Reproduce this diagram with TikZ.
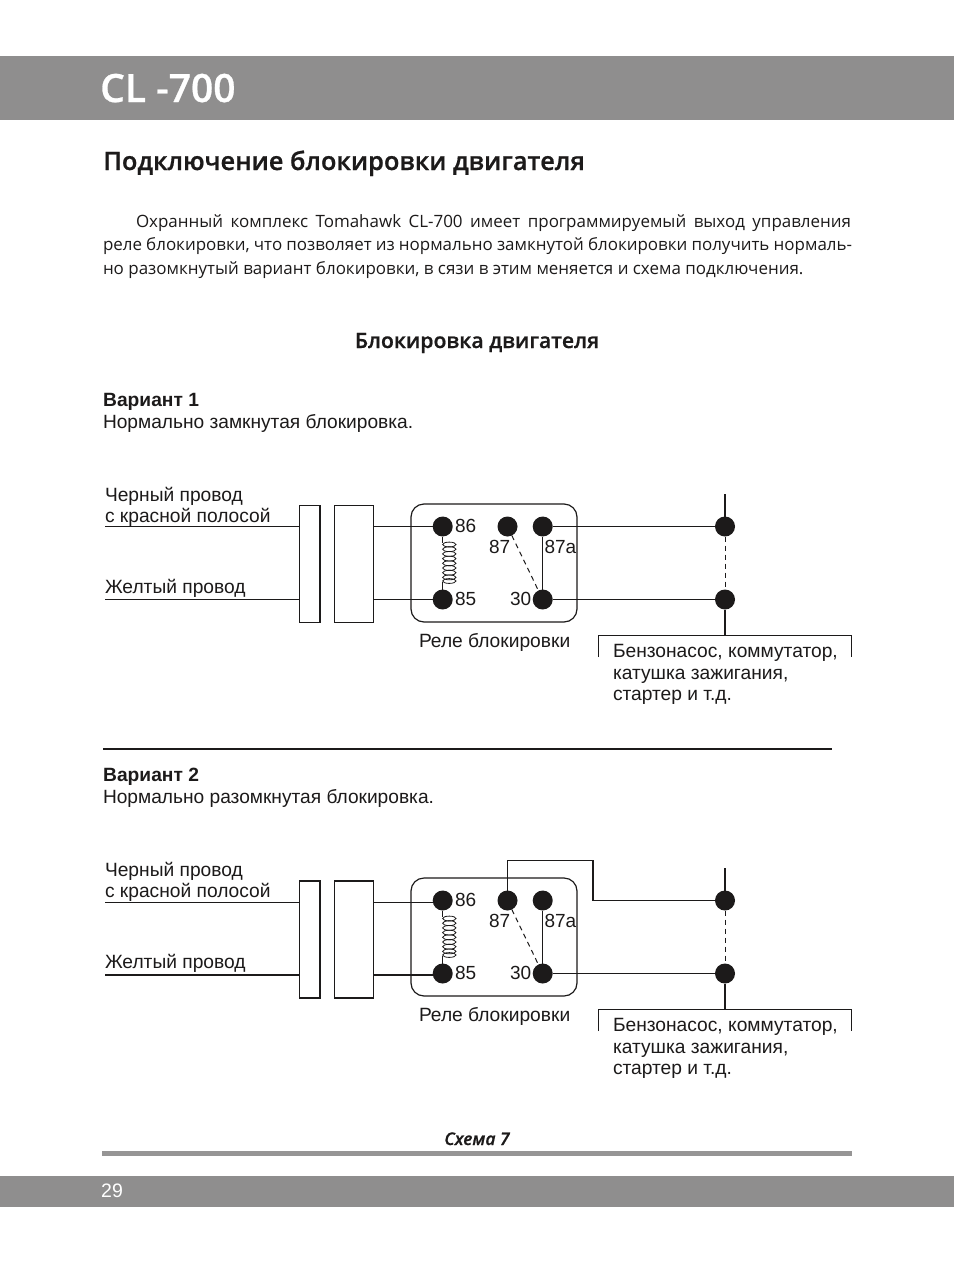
\documentclass[tikz,border=0pt]{standalone}
\usepackage{fontspec}
\setmainfont{Liberation Sans}
\newfontfamily\myr{Open Sans}
\newfontfamily\myrS{Open Sans Semibold}[FakeBold=0.7]
\definecolor{band}{HTML}{8F8E8E}
\definecolor{ink}{HTML}{1C1A1A}
\definecolor{rule}{HTML}{969595}
\tikzset{
  lbl/.style={anchor=base west,inner sep=0,outer sep=0,font=\fontsize{19.2}{19.2}\selectfont,text=ink},
  pin/.style={circle,fill=ink,draw=none,minimum size=20pt,inner sep=0,outer sep=0},
  wire/.style={draw=ink,line width=1.1pt},
  fwire/.style={draw=ink,line width=1pt},
  bus/.style={draw=ink,line width=1.8pt},
  num/.style={anchor=base west,inner sep=0,outer sep=0,font=\fontsize{19}{19}\selectfont,text=ink},
  body/.style={anchor=base west,inner sep=0,outer sep=0,font=\myr\fontsize{16.95}{16.95}\selectfont,text=ink},
}
\newcommand{\relaycirc}[5]{%
  \coordinate (#1l1) at (105,#3);
  \coordinate (#1l2) at (105,#4);
  \node[lbl] (#1ta) at (105,501+#5) {Черный провод};
  \node[lbl] (#1tb) at (105,522+#5) {с красной полосой};
  \node[lbl] (#1tc) at (105,593+#5) {Желтый провод};
  \node[draw=ink,line width=1.1pt,minimum width=21pt,minimum height=117pt,inner sep=0,outer sep=0] (#1ra) at (309.8,#2) {};
  \draw[line width=1.8pt,ink] (#1ra.north east) -- (#1ra.south east);
  \node[draw=ink,line width=1.1pt,minimum width=39pt,minimum height=117pt,inner sep=0,outer sep=0] (#1rb) at (353.8,#2) {};
  \node[draw=ink,line width=1.2pt,rounded corners=13pt,minimum width=166pt,minimum height=118pt,inner sep=0,outer sep=0] (#1rel) at (494,563) {};
  \node[pin] (#1p86) at (442.7,526.5) {};
  \node[pin] (#1p85) at (442.7,599.5) {};
  \node[pin] (#1p87) at (507.5,526.5) {};
  \node[pin] (#1p87a) at (542.7,526.5) {};
  \node[pin] (#1p30) at (542.7,599.5) {};
  \node[pin] (#1t1) at (725,526.5) {};
  \node[pin] (#1t2) at (725,599.5) {};
  \node[num] (#1n86) at (455,532.5) {86};
  \node[num] (#1n85) at (455,605) {85};
  \node[num] (#1n87) at (489,553.5) {87};
  \node[num] (#1n87a) at (544.5,553.5) {87a};
  \node[num] (#1n30) at (510,605) {30};
  \node[lbl] (#1cap) at (419,647) {Реле блокировки};
  \draw[fwire] (#1l1) -- (#1l1 -| #1ra.west);
  \draw[fwire] (#1l2) -- (#1l2 -| #1ra.west);
  \draw[wire] (#1rb.east |- #1l1) -- (#1l1 -| #1p86.west);
  \draw[wire] (#1rb.east |- #1l2) -- (#1l2 -| #1p85.west);
  \draw[wire] (#1p30) -- (#1t2);
  \draw[wire] (#1p87a) -- (#1p30);
  \draw[fwire,dash pattern=on 5pt off 4pt] (#1p87) -- (#1p30);
  \draw[fwire,dash pattern=on 5pt off 4pt] (#1t1) -- (#1t2);
  \draw[wire] (#1p86) -- (442.7,543);
  \draw[wire] (#1p85) -- (442.7,582);
  \foreach \yy in {544.5,549.2,553.9,558.6,563.3,568,572.7,577.4,581}
    \draw[line width=.8pt,ink] (449.3,\yy) ellipse [x radius=6.7pt,y radius=2.4pt];
  \coordinate (#1vt) at (725,494);
  \coordinate (#1bl) at (598.5,657);
  \coordinate (#1br) at (851.5,657);
  \coordinate (#1bm) at (725,635.5);
  \draw[bus] (#1vt) -- (#1t1);
  \draw[bus] (#1t2) -- (#1bm);
  \draw[wire] (#1bl) |- (#1bm) -| (#1br);
  \node[lbl] (#1da) at (613,657) {Бензонасос, коммутатор,};
  \node[lbl] (#1db) at (613,679) {катушка зажигания,};
  \node[lbl] (#1dc) at (613,700) {стартер и т.д.};
}
\begin{document}
\begin{tikzpicture}[x=1pt,y=-1pt]
\useasboundingbox (0,0) rectangle (954,1261);
\fill[white] (0,0) rectangle (954,1261);
\fill[band] (0,56) rectangle (954,120);
\fill[band] (0,1176) rectangle (954,1207);
\node[anchor=base west,inner sep=0,font=\myrS\fontsize{39}{39}\selectfont,text=white] (title) at (100,102) {CL -700};
\node[anchor=base west,inner sep=0,font=\myrS\fontsize{25.4}{25.4}\selectfont,text=ink] (head) at (103,170) {Подключение блокировки двигателя};
\node[body] (p1) at (136,227) {\makebox[715pt][s]{Охранный комплекс Tomahawk CL-700 имеет программируемый выход управления}};
\node[body] (p2) at (103,250.5) {\makebox[749pt][s]{реле блокировки, что позволяет из нормально замкнутой блокировки получить нормаль-}};
\node[body] (p3) at (103,274) {но разомкнутый вариант блокировки, в сязи в этим меняется и схема подключения.};
\node[anchor=base,inner sep=0,font=\myrS\fontsize{21.2}{21.2}\selectfont,text=ink] (sub) at (477,348) {Блокировка двигателя};
\node[anchor=base west,inner sep=0,font=\bfseries\fontsize{19.2}{19.2}\selectfont,text=ink] (v1) at (103,406) {Вариант 1};
\node[lbl,font=\fontsize{19.15}{19.15}\selectfont] (v1t) at (103,428) {Нормально замкнутая блокировка.};
\relaycirc{a}{563.6}{526.3}{599.5}{0}
\draw[wire] (ap87a) -- (at1);
\coordinate (sepl) at (103,748.5);
\coordinate (sepr) at (832,748.5);
\draw[ink,line width=2pt] (sepl) -- (sepr);
\node[anchor=base west,inner sep=0,font=\bfseries\fontsize{19.2}{19.2}\selectfont,text=ink] (v2) at (103,781) {Вариант 2};
\node[lbl,font=\fontsize{19.15}{19.15}\selectfont] (v2t) at (103,803) {Нормально разомкнутая блокировка.};
\begin{scope}[yshift=-374pt]
\relaycirc{b}{565.5}{528.2}{601}{1}
\draw[bus] (bl2) -- (bl2 -| bra.west);
\draw[bus] (brb.east |- bl2) -- (bl2 -| bp85.west);
\draw[bus] (brb.north west) -- (brb.north east);
\draw[bus] (bra.north west) -- (bra.north east);
\coordinate (bk1) at (507.5,486.5);
\coordinate (bk2) at (593,486.5);
\coordinate (bk3) at (593,526.5);
\draw[wire] (bp87) -- (bk1) -- (bk2) -- (bk3) -- (bt1);
\end{scope}
\node[anchor=base,inner sep=0,font=\myrS\itshape\fontsize{17.5}{17.5}\selectfont,text=ink] (sch) at (477,1145) {Схема 7};
\fill[rule] (102,1151) rectangle (852,1156);
\node[anchor=base west,inner sep=0,font=\fontsize{19.5}{19.5}\selectfont,text=white] (pg) at (101,1197) {29};
\end{tikzpicture}
\end{document}
